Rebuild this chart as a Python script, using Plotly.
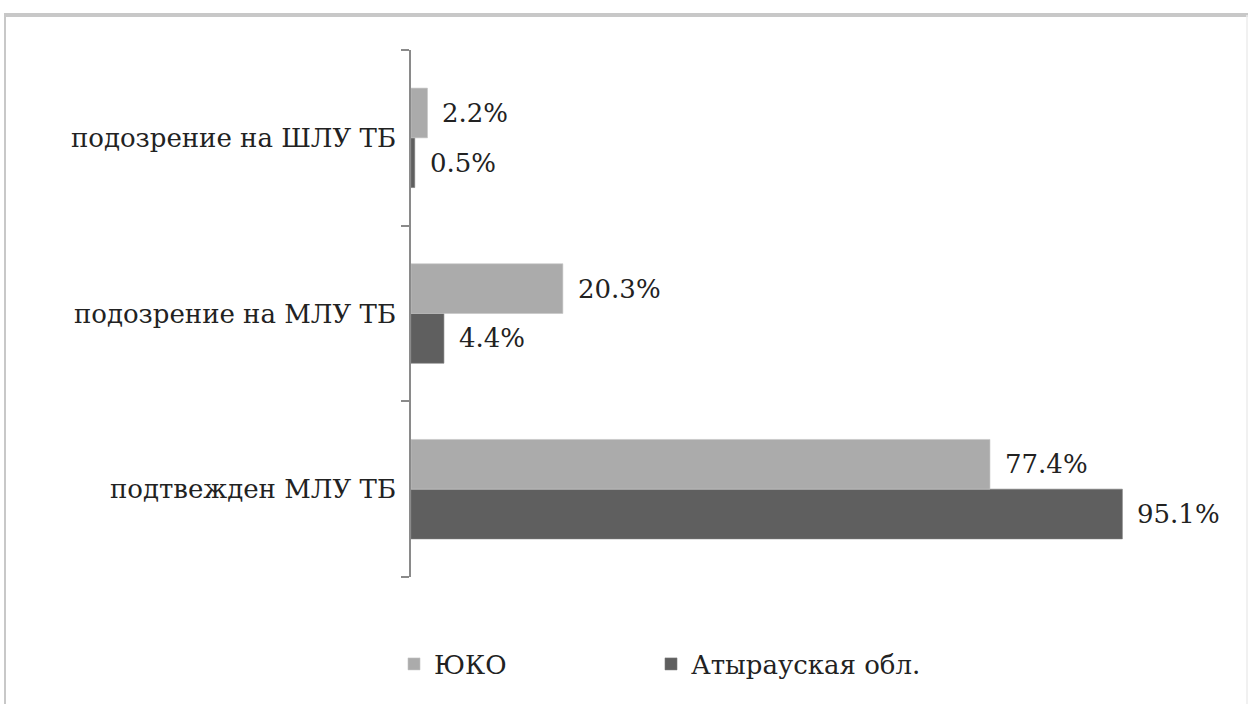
import plotly.graph_objects as go

# Categories listed bottom-to-top as they appear on the vertical axis
categories = ["подтвежден МЛУ ТБ", "подозрение на МЛУ ТБ", "подозрение на ШЛУ ТБ"]
yuko = [77.4, 20.3, 2.2]
atyrau = [95.1, 4.4, 0.5]
series_names = ["ЮКО", "Атырауская обл."]

W, H = 1250, 704
L, R, T, B = 411, 91, 50, 127
FONT = "DejaVu Serif, serif"
FS = 26
BARGAP = 0.434

fig = go.Figure()
# Dark series first so the light series sits above it within each group
fig.add_trace(go.Bar(
    y=categories, x=atyrau, orientation="h", name=series_names[1],
    marker=dict(color="#5f5f5f", line=dict(color="#7a7a7a", width=0.6)),
    legend="legend2",
))
fig.add_trace(go.Bar(
    y=categories, x=yuko, orientation="h", name=series_names[0],
    marker=dict(color="#ababab", line=dict(color="#c4c4c4", width=0.6)),
    legend="legend",
))

# Value labels just right of each bar end, centred on each bar
half = (1 - BARGAP) / 4
annotations = []
for vals, off in ((yuko, half), (atyrau, -half)):
    for cat_idx, v in enumerate(vals):
        annotations.append(dict(
            x=v, y=cat_idx + off, xref="x", yref="y",
            text=f"{v:.1f}%", showarrow=False, xanchor="left", yanchor="middle",
            xshift=13, font=dict(family=FONT, size=FS, color="#222222"),
        ))

pw = W - L - R
ph = H - T - B
def px_x(p):
    return (p - L) / pw
def px_y(p):
    return (H - B - p) / ph

frame_col = "#c8c8c8"
shapes = [
    dict(type="line", xref="paper", yref="paper", x0=px_x(4), x1=px_x(1248),
         y0=px_y(15), y1=px_y(15), line=dict(color=frame_col, width=4)),
    dict(type="line", xref="paper", yref="paper", x0=px_x(5), x1=px_x(5),
         y0=px_y(15), y1=px_y(710), line=dict(color=frame_col, width=2)),
    dict(type="line", xref="paper", yref="paper", x0=px_x(1247), x1=px_x(1247),
         y0=px_y(15), y1=px_y(710), line=dict(color="#ececec", width=1.5)),
]

legend_style = dict(
    orientation="h", xanchor="left", y=px_y(664), yanchor="middle",
    font=dict(family=FONT, size=FS, color="#222222"),
    itemwidth=30, bgcolor="rgba(0,0,0,0)",
)

fig.update_layout(
    width=W, height=H,
    margin=dict(l=L, r=R, t=T, b=B),
    paper_bgcolor="white", plot_bgcolor="white",
    barmode="group", bargap=BARGAP, bargroupgap=0,
    font=dict(family=FONT, size=FS, color="#222222"),
    xaxis=dict(range=[0, 100], visible=False, showgrid=False, zeroline=False),
    yaxis=dict(
        type="category", range=[-0.5, 2.5], showline=True, linecolor="#8a8a8a",
        linewidth=1.5, ticks="outside", ticklen=8, tickcolor="#8a8a8a",
        tickwidth=1.5, tickson="boundaries", ticklabelstandoff=8,
        tickfont=dict(family=FONT, size=FS, color="#222222"), showgrid=False,
        zeroline=False,
    ),
    legend=dict(x=px_x(394), **legend_style),
    legend2=dict(x=px_x(651), **legend_style),
    annotations=annotations,
    shapes=shapes,
    showlegend=True,
)

fig.write_html("out.html")
